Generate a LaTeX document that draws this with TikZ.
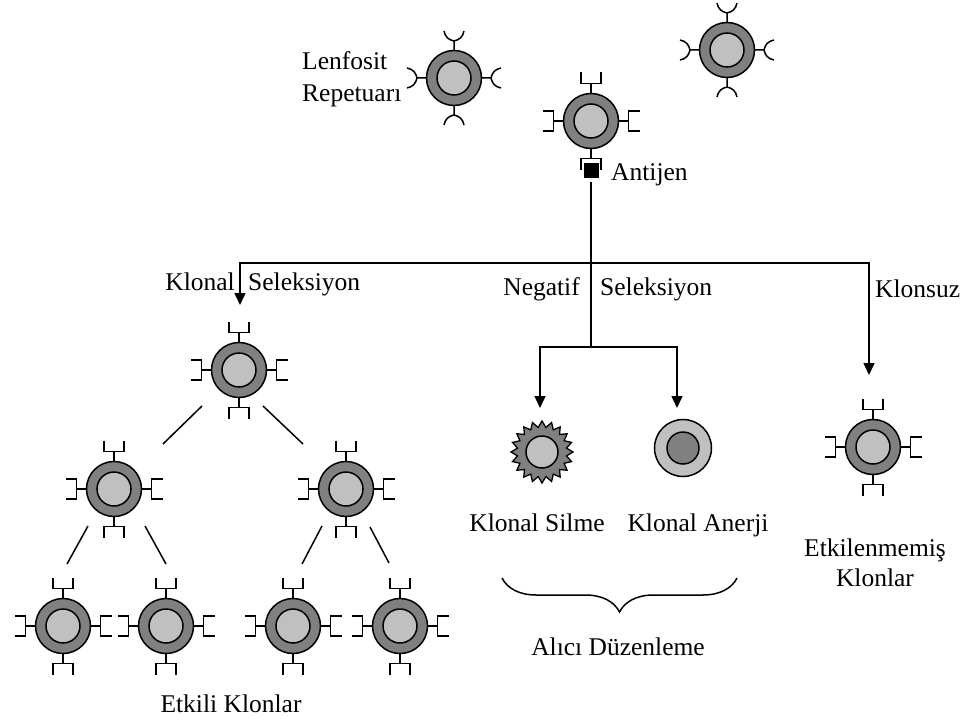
\documentclass[tikz,border=0pt]{standalone}
\usepackage{fontspec}
\setmainfont{Liberation Serif}
\usetikzlibrary{arrows.meta,shapes.geometric,decorations.pathreplacing,calc}
\definecolor{ringgray}{RGB}{128,128,128}
\definecolor{coregray}{RGB}{192,192,192}

\begin{document}
\begin{tikzpicture}[x=1pt,y=-1pt,
  lbl/.style={font=\fontsize{25.5}{30}\selectfont, inner sep=0pt},
  cell/.style={circle, draw, line width=1.5pt, fill=ringgray, minimum size=55pt, inner sep=0pt,
    path picture={\draw[line width=1.5pt, fill=coregray] (path picture bounding box.center) circle[radius=17pt];}},
  anergic/.style={circle, draw, line width=1.5pt, fill=coregray, minimum size=57pt, inner sep=0pt,
    path picture={\draw[line width=1.5pt, fill=ringgray] (path picture bounding box.center) circle[radius=16pt];}},
  dying/.style={star, star points=20, star point ratio=1.25, draw, line width=1.3pt, fill=ringgray,
    minimum size=62pt, inner sep=0pt,
    path picture={\draw[line width=1.5pt, fill=coregray] (path picture bounding box.center) circle[radius=16pt];}},
  antigen/.style={fill=black, minimum size=15pt, inner sep=0pt},
  recep/.style={line width=1.5pt, line cap=butt, line join=miter},
  link/.style={line width=1.5pt},
  flow/.style={line width=1.5pt, -{Triangle[length=12pt,width=11pt]}},
  brc/.style={line width=1.5pt, decorate, decoration={brace, mirror, amplitude=34pt}},
  % cup-shaped receptor, stem starts at the origin and points outward (upwards)
  cupr/.pic={\draw[recep] (0,0) -- (0,-10) (-10,-21) -- (-10,-10) -- (10,-10) -- (10,-21);},
  % Y-shaped receptor
  yr/.pic={\draw[recep] (0,0) -- (0,-9)
      (0,-9) .. controls (-5,-10) and (-9,-13) .. (-10,-19)
      (0,-9) .. controls (5,-10) and (9,-13) .. (10,-19);},
  cups/.pic={\pic at (0,-27.5) {cupr}; \pic[rotate=180] at (0,27.5) {cupr};
             \pic[rotate=90] at (-27.5,0) {cupr}; \pic[rotate=-90] at (27.5,0) {cupr};},
  ys/.pic={\pic at (0,-28) {yr}; \pic[rotate=180] at (0,28) {yr};
           \pic[rotate=90] at (-28,0) {yr}; \pic[rotate=-90] at (28,0) {yr};},
]
\useasboundingbox[fill=white] (0,0) rectangle (972,725);

% --- lymphocyte repertoire ---
\pic at (454,78) {ys};
\node[cell] (rep1) at (454,78) {};
\pic at (727,50) {ys};
\node[cell] (rep2) at (727,50) {};
\node[lbl, anchor=base west] (lrep1) at (302,70) {Lenfosit};
\node[lbl, anchor=base west] (lrep2) at (302,101) {Repetuarı};

% --- cell meeting the antigen ---
\pic at (591,93.5) {cupr};
\pic[rotate=90] at (563.5,121) {cupr};
\pic[rotate=-90] at (618.5,121) {cupr};
\pic[rotate=180] at (591,148.5) {cupr};
\node[cell] (act) at (591,121) {};
\node[antigen] (ag) at (591,170) {};
\node[lbl, anchor=base west] (lag) at (611,180) {Antijen};

% --- branching ---
\coordinate (hc) at (591,263);
\coordinate (nb) at (591,347);
\coordinate (a1) at (240,305);
\coordinate (a2) at (540,408);
\coordinate (a3) at (677,408);
\coordinate (a4) at (869,375);
\draw[link, shorten <=4pt] (ag.south) -- (nb);
\draw[flow] (hc) -| (a1);
\draw[flow] (hc) -| (a4);
\draw[flow] (nb) -| (a2);
\draw[flow] (nb) -| (a3);

\node[lbl, anchor=base east] (lks1) at (235,290) {Klonal};
\node[lbl, anchor=base west] (lks2) at (248,290) {Seleksiyon};
\node[lbl, anchor=base east] (lns1) at (580,295) {Negatif};
\node[lbl, anchor=base west] (lns2) at (600,295) {Seleksiyon};
\node[lbl, anchor=base west] (lkz) at (875,297) {Klonsuz};

% --- clonal expansion tree ---
\foreach \n/\px/\py in {t0/239/370, t1/114/489, t2/346/489, b1/63/626, b2/166/626, b3/293/626, b4/400/626}{
  \pic at (\px,\py) {cups};
  \node[cell] (\n) at (\px,\py) {};
}
\draw[link] ($(t0)+(-37,36)$) -- ($(t1)+(49,-45)$);
\draw[link] ($(t0)+(24,36)$) -- ($(t2)+(-43,-45)$);
\draw[link] ($(t1)+(-26,37)$) -- ($(b1)+(4,-62)$);
\draw[link] ($(t1)+(31,37)$) -- ($(b2)+(0,-62)$);
\draw[link] ($(t2)+(-24,37)$) -- ($(b3)+(9,-62)$);
\draw[link] ($(t2)+(24,38)$) -- ($(b4)+(-11,-63)$);
\node[lbl, anchor=base] (let) at (231,712) {Etkili Klonlar};

% --- negative selection outcomes ---
\node[dying] (del) at (542,452) {};
\node[anergic] (anr) at (683,448) {};
\node[lbl, anchor=base] (ldel) at (537,531) {Klonal Silme};
\node[lbl, anchor=base] (lanr) at (698,531) {Klonal Anerji};
\coordinate (bl) at (502,578);
\coordinate (br) at (737,578);
\draw[brc] (bl) -- (br);
\node[lbl, anchor=base] (lalc) at (618,655) {Alıcı Düzenleme};

% --- unaffected clone ---
\pic at (873,447) {cups};
\node[cell] (una) at (873,447) {};
\node[lbl, anchor=base] (luna1) at (875,556) {Etkilenmemiş};
\node[lbl, anchor=base] (luna2) at (875,586) {Klonlar};
\end{tikzpicture}
\end{document}
